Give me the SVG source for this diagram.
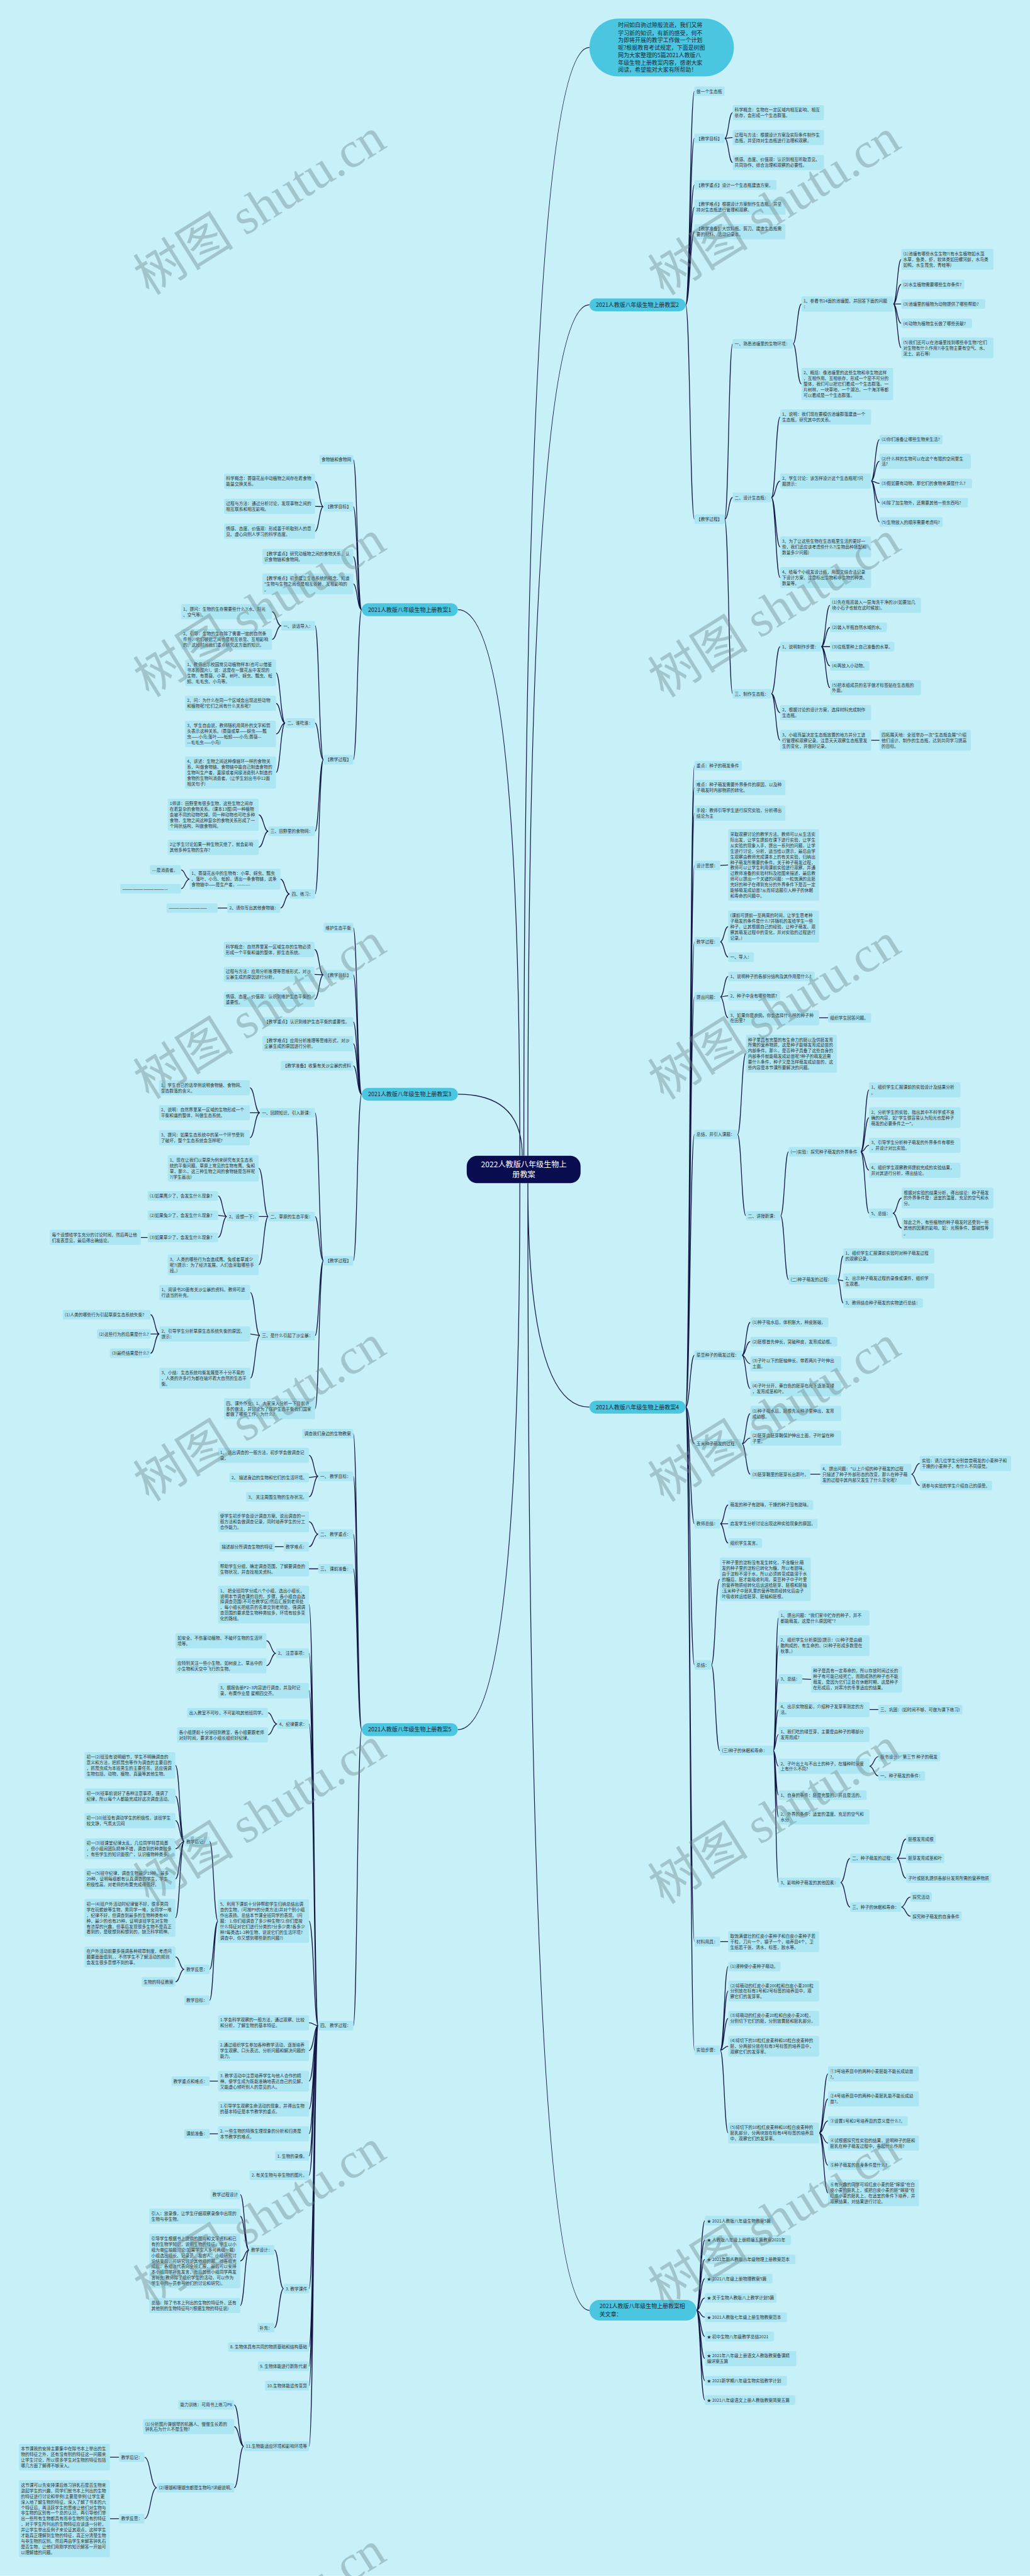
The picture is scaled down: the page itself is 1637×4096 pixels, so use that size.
<svg xmlns="http://www.w3.org/2000/svg" width="1637" height="4096" viewBox="0 0 1637 4096">
<style>
.bg{fill:#c8f0f8}
.n rect{fill:#ade6f3;rx:4px}
.n text{font-family:"Noto Sans CJK SC","Noto Sans",sans-serif;font-size:10.6px;fill:#333}
.l1 rect{fill:#4ac6e1}
.l1 text{font-family:"Noto Sans CJK SC","Noto Sans",sans-serif;font-size:14px;fill:#1d2733}
.ct rect{fill:#0a0c50}
.ct text{font-family:"Noto Sans CJK SC","Noto Sans",sans-serif;font-size:19px;fill:#fff;text-anchor:middle}
.e path{fill:none;stroke:#141846;stroke-width:2}
.wm text{font-family:"Liberation Serif","Noto Sans CJK SC",serif;font-size:125px;fill:#6e8a8e;opacity:.42;text-anchor:middle}
</style>
<g transform="scale(0.63945)">
<rect class="bg" x="0" y="0" width="2560" height="6405"/>
<g class="e" id="connectors">
<path d="M1302 2874Q1302 118 1465 118M1312 2874Q1312 758 1465 758M1292 2874Q1292 1516 1138 1516M1298 2874Q1298 2721 1138 2721M1312 2942Q1312 3499 1465 3499M1292 2942Q1292 4301 1138 4301M1312 2942Q1312 5745 1465 5745"/>
<path d="M1704 758C1715 758 1715 227 1726 227M1704 758C1715 758 1715 344 1726 344M1704 758C1715 758 1715 460 1726 460M1704 758C1715 758 1715 515 1726 515M1704 758C1715 758 1715 576 1726 576M1704 758C1715 758 1715 1291 1726 1291"/>
<path d="M1801 344C1811 344 1811 280 1821 280M1801 344C1811 344 1811 342 1821 342M1801 344C1811 344 1811 404 1821 404"/>
<path d="M1801 1291C1811 1291 1811 855 1821 855M1801 1291C1811 1291 1811 1237 1821 1237M1801 1291C1811 1291 1811 1725 1821 1725"/>
<path d="M1971 855C1981 855 1981 756 1992 756M1971 855C1981 855 1981 955 1992 955"/>
<path d="M2220 756C2230 756 2230 645 2240 645M2220 756C2230 756 2230 707 2240 707M2220 756L2240 756M2220 756C2230 756 2230 804 2240 804M2220 756C2230 756 2230 865 2240 865"/>
<path d="M1917 1237C1928 1237 1928 1037 1939 1037M1917 1237C1928 1237 1928 1196 1939 1196M1917 1237C1928 1237 1928 1360 1939 1360M1917 1237C1928 1237 1928 1436 1939 1436"/>
<path d="M2165 1196C2175 1196 2175 1093 2186 1093M2165 1196C2175 1196 2175 1147 2186 1147M2165 1196C2175 1196 2175 1202 2186 1202M2165 1196C2175 1196 2175 1250 2186 1250M2165 1196C2175 1196 2175 1298 2186 1298"/>
<path d="M1917 1725C1928 1725 1928 1608 1939 1608M1917 1725C1928 1725 1928 1772 1939 1772M1917 1725C1928 1725 1928 1841 1939 1841"/>
<path d="M2041 1608C2052 1608 2052 1505 2063 1505M2041 1608C2052 1608 2052 1560 2063 1560M2041 1608L2063 1608M2041 1608C2052 1608 2052 1656 2063 1656M2041 1608C2052 1608 2052 1710 2063 1710M2165 1841L2186 1841"/>
<path d="M1704 3499C1715 3499 1715 1904 1726 1904M1704 3499C1715 3499 1715 1958 1726 1958M1704 3499C1715 3499 1715 2022 1726 2022M1704 3499C1715 3499 1715 2152 1726 2152M1704 3499C1715 3499 1715 2342 1726 2342M1704 3499C1715 3499 1715 2479 1726 2479M1704 3499C1715 3499 1715 2821 1726 2821M1704 3499C1715 3499 1715 3370 1726 3370M1704 3499C1715 3499 1715 3590 1726 3590M1704 3499C1715 3499 1715 3789 1726 3789M1704 3499C1715 3499 1715 4140 1726 4140M1704 3499C1715 3499 1715 4828 1726 4828M1704 3499C1715 3499 1715 5098 1726 5098"/>
<path d="M1790 2152L1810 2151M1790 2342C1800 2342 1800 2304 1810 2304M1790 2342C1800 2342 1800 2380 1810 2380M1790 2479C1800 2479 1800 2428 1810 2428M1790 2479C1800 2479 1800 2476 1810 2476M1790 2479C1800 2479 1800 2531 1810 2531M2036 2531L2058 2531"/>
<path d="M1833 2821C1843 2821 1843 2620 1854 2620M1833 2821C1843 2821 1843 3023 1854 3023M1940 3023C1950 3023 1950 2864 1960 2864M1940 3023C1950 3023 1950 3182 1960 3182"/>
<path d="M2139 2864C2150 2864 2150 2710 2160 2710M2139 2864C2150 2864 2150 2779 2160 2779M2139 2864C2150 2864 2150 2848 2160 2848M2139 2864C2150 2864 2150 2910 2160 2910M2139 2864C2150 2864 2150 3017 2160 3017M2219 3017C2230 3017 2230 2979 2241 2979M2219 3017C2230 3017 2230 3054 2241 3054"/>
<path d="M2082 3182C2089 3182 2089 3123 2096 3123M2082 3182L2096 3185M2082 3182C2089 3182 2089 3240 2096 3240"/>
<path d="M1844 3370C1854 3370 1854 3288 1865 3288M1844 3370C1854 3370 1854 3336 1865 3336M1844 3370C1854 3370 1854 3391 1865 3391M1844 3370C1854 3370 1854 3453 1865 3453M1844 3590C1854 3590 1854 3515 1865 3515M1844 3590C1854 3590 1854 3576 1865 3576M1844 3590C1854 3590 1854 3666 1865 3666M2014 3666L2039 3666M2265 3666C2275 3666 2275 3639 2286 3639M2265 3666C2275 3666 2275 3694 2286 3694"/>
<path d="M1790 3789C1800 3789 1800 3742 1810 3742M1790 3789L1810 3789M1790 3789C1800 3789 1800 3837 1810 3837M1768 4140C1778 4140 1778 3927 1789 3927M1768 4140C1778 4140 1778 4353 1789 4353"/>
<path d="M1922 4353C1928 4353 1928 4023 1935 4023M1922 4353C1928 4353 1928 4092 1935 4092M1922 4353C1928 4353 1928 4175 1935 4175M1922 4353C1928 4353 1928 4251 1935 4251M1922 4353C1928 4353 1928 4313 1935 4313M1922 4353C1928 4353 1928 4392 1935 4392M1922 4353C1928 4353 1928 4464 1935 4464M1922 4353C1928 4353 1928 4518 1935 4518M1922 4353C1928 4353 1928 4681 1935 4681"/>
<path d="M1994 4175L2016 4176M2161 4251L2183 4251M2161 4392C2172 4392 2172 4368 2183 4368M2161 4392C2172 4392 2172 4416 2183 4416M2089 4681C2101 4681 2101 4621 2113 4621M2089 4681C2101 4681 2101 4742 2113 4742M2229 4621C2240 4621 2240 4573 2252 4573M2229 4621L2252 4621M2229 4621C2240 4621 2240 4670 2252 4670M2240 4742C2251 4742 2251 4717 2263 4717M2240 4742C2251 4742 2251 4765 2263 4765"/>
<path d="M1790 4828L1810 4828M1790 5098C1800 5098 1800 4890 1810 4890M1790 5098C1800 5098 1800 4951 1810 4951M1790 5098C1800 5098 1800 5019 1810 5019M1790 5098C1800 5098 1800 5088 1810 5088M1790 5098C1800 5098 1800 5304 1810 5304"/>
<path d="M2036 5304C2047 5304 2047 5157 2058 5157M2036 5304C2047 5304 2047 5219 2058 5219M2036 5304C2047 5304 2047 5274 2058 5274M2036 5304C2047 5304 2047 5329 2058 5329M2036 5304C2047 5304 2047 5384 2058 5384M2036 5304C2047 5304 2047 5453 2058 5453"/>
<path d="M1731 5745C1741 5745 1741 5522 1752 5522M1731 5745C1741 5745 1741 5570 1752 5570M1731 5745C1741 5745 1741 5618 1752 5618M1731 5745C1741 5745 1741 5666 1752 5666M1731 5745C1741 5745 1741 5714 1752 5714M1731 5745C1741 5745 1741 5762 1752 5762M1731 5745C1741 5745 1741 5810 1752 5810M1731 5745C1741 5745 1741 5865 1752 5865M1731 5745C1741 5745 1741 5920 1752 5920M1731 5745C1741 5745 1741 5968 1752 5968"/>
<path d="M899 1516C888 1516 888 1143 878 1143M899 1516C888 1516 888 1260 878 1260M899 1516C888 1516 888 1384 878 1384M899 1516C888 1516 888 1452 878 1452M899 1516C888 1516 888 1889 878 1889"/>
<path d="M804 1260C793 1260 793 1197 783 1197M804 1260L783 1259M804 1260C793 1260 793 1321 783 1321M804 1889C793 1889 793 1556 783 1556M804 1889C793 1889 793 1798 783 1798M804 1889C793 1889 793 2067 783 2067M804 1889C793 1889 793 2223 783 2223"/>
<path d="M699 1556C687 1556 687 1521 676 1521M699 1556C687 1556 687 1590 676 1590M709 1798C697 1798 697 1673 686 1673M709 1798C697 1798 697 1749 686 1749M709 1798C697 1798 697 1825 686 1825M709 1798C697 1798 697 1921 686 1921"/>
<path d="M667 2067C655 2067 655 2026 643 2026M667 2067C655 2067 655 2107 643 2107M720 2223C708 2223 708 2186 697 2186M720 2223C708 2223 708 2258 697 2258M471 2186C460 2186 460 2163 450 2163M471 2186C460 2186 460 2210 450 2210M565 2258L541 2258"/>
<path d="M899 2721C888 2721 888 2307 878 2307M899 2721C888 2721 888 2424 878 2424M899 2721C888 2721 888 2541 878 2541M899 2721C888 2721 888 2595 878 2595M899 2721C888 2721 888 2650 878 2650M899 2721C888 2721 888 3135 878 3135"/>
<path d="M804 2424C793 2424 793 2361 782 2361M804 2424L782 2423M804 2424C793 2424 793 2485 782 2485M804 3135C793 3135 793 2767 783 2767M804 3135C793 3135 793 3025 783 3025M804 3135C793 3135 793 3321 783 3321M804 3135C793 3135 793 3503 783 3503"/>
<path d="M646 2767C633 2767 633 2705 621 2705M646 2767L621 2767M646 2767C633 2767 633 2829 621 2829M667 3025C655 3025 655 2905 643 2905M667 3025L643 3025M667 3025C655 3025 655 3145 643 3145"/>
<path d="M564 3025C553 3025 553 2974 542 2974M564 3025L542 3022M564 3025C553 3025 553 3077 542 3077M367 3077L350 3077M646 3321C634 3321 634 3214 622 3214M646 3321L622 3317M646 3321C634 3321 634 3427 622 3427M396 3317C385 3317 385 3269 374 3269M396 3317L374 3317M396 3317C385 3317 385 3365 374 3365"/>
<path d="M899 4301C888 4301 888 3565 878 3565M899 4301C888 4301 888 3671 878 3671M899 4301C888 4301 888 3815 878 3815M899 4301C888 4301 888 3901 878 3901M899 4301C888 4301 888 5037 878 5037"/>
<path d="M791 3671C780 3671 780 3619 768 3619M791 3671L768 3674M791 3671C780 3671 780 3722 768 3722M791 3815C780 3815 780 3784 768 3784M791 3815C780 3815 780 3846 768 3846M705 3846L683 3846M791 3901L768 3901"/>
<path d="M791 5037C780 5037 780 3990 768 3990M791 5037C780 5037 780 4111 768 4111M791 5037C780 5037 780 4204 768 4204M791 5037C780 5037 780 4287 768 4287M791 5037C780 5037 780 4777 768 4777M791 5037C780 5037 780 5030 768 5030M791 5037C780 5037 780 5099 768 5099M791 5037C780 5037 780 5175 768 5175M791 5037C780 5037 780 5244 768 5244M791 5037C780 5037 780 5306 768 5306M791 5037C780 5037 780 5361 768 5361M791 5037C780 5037 780 5409 768 5409M791 5037C780 5037 780 5691 768 5691M791 5037C780 5037 780 5836 768 5836M791 5037C780 5037 780 5884 768 5884M791 5037C780 5037 780 5932 768 5932M791 5037C780 5037 780 6083 768 6083"/>
<path d="M686 4111C674 4111 674 4080 662 4080M686 4111C674 4111 674 4142 662 4142M689 4287C677 4287 677 4259 666 4259M689 4287C677 4287 677 4314 666 4314M542 4777C531 4777 531 4579 521 4579M542 4777C531 4777 531 4897 521 4897M542 4777C531 4777 531 4974 521 4974"/>
<path d="M458 4579C447 4579 447 4390 436 4390M458 4579C447 4579 447 4466 436 4466M458 4579C447 4579 447 4527 436 4527M458 4579C447 4579 447 4597 436 4597M458 4579C447 4579 447 4672 436 4672M458 4579C447 4579 447 4769 436 4769M458 4897C447 4897 447 4866 436 4866M458 4897C447 4897 447 4928 436 4928M542 5175L521 5175M542 5306L521 5306"/>
<path d="M705 5691C693 5691 693 5595 682 5595M705 5691C693 5691 693 5788 682 5788M619 5595C608 5595 608 5457 597 5457M619 5595C608 5595 608 5511 597 5511M619 5595C608 5595 608 5622 597 5622M619 5595C608 5595 608 5733 597 5733"/>
<path d="M606 6083C594 6083 594 5980 582 5980M606 6083C594 6083 594 6034 582 6034M606 6083C594 6083 594 6186 582 6186M390 6186C374 6186 374 6110 359 6110M390 6186C374 6186 374 6263 359 6263M296 6110L273 6110M296 6263L273 6263"/>
</g>
<g id="center" class="ct"><rect x="1160" y="2874" width="283" height="68" rx="26"/><text><tspan x="1302" y="2903">2022人教版八年级生物上</tspan><tspan x="1302" y="2928">册教案</tspan></text></g>
<g id="intro" class="l1"><rect x="1465" y="46" width="359" height="144" rx="72"/><text><tspan x="1536" y="68">时间如白驹过隙般流逝，我们又将</tspan><tspan x="1536" y="87">学习新的知识，有新的感受，何不</tspan><tspan x="1536" y="105">为即将开展的教学工作做一个计划</tspan><tspan x="1536" y="124">呢?根据教育考试规定，下面是树图</tspan><tspan x="1536" y="142">网为大家整理的5篇2021人教版八</tspan><tspan x="1536" y="161">年级生物上册教案内容，感谢大家</tspan><tspan x="1536" y="179">阅读，希望能对大家有所帮助！</tspan></text></g>
<g id="B2" class="l1"><rect x="1465" y="742" width="239" height="32" rx="16"/><text x="1481" y="763">2021人教版八年级生物上册教案2</text></g>
<g id="B4" class="l1"><rect x="1465" y="3483" width="239" height="32" rx="16"/><text x="1481" y="3504">2021人教版八年级生物上册教案4</text></g>
<g id="BR" class="l1"><rect x="1465" y="5719" width="266" height="51" rx="25"/><text><tspan x="1490" y="5740">2021人教版八年级生物上册教案相</tspan><tspan x="1490" y="5759">关文章：</tspan></text></g>
<g id="B1" class="l1"><rect x="899" y="1500" width="239" height="32" rx="16"/><text x="915" y="1521">2021人教版八年级生物上册教案1</text></g>
<g id="B3" class="l1"><rect x="899" y="2705" width="239" height="32" rx="16"/><text x="915" y="2726">2021人教版八年级生物上册教案3</text></g>
<g id="B5" class="l1"><rect x="899" y="4285" width="239" height="32" rx="16"/><text x="915" y="4306">2021人教版八年级生物上册教案5</text></g>
<g class="n">
<g id="a1"><rect x="1726" y="215" width="75" height="24"/><text x="1731" y="231">做一个生态瓶</text></g>
<g id="a2"><rect x="1726" y="332" width="75" height="24"/><text x="1731" y="348">【教学目标】</text></g>
<g id="a21"><rect x="1821" y="261" width="227" height="38"/><text><tspan x="1826" y="277">科学概念：生物在一定区域内相互影响、相互</tspan><tspan x="1826" y="291">依存，会形成一个生态群落。</tspan></text></g>
<g id="a22"><rect x="1821" y="323" width="227" height="38"/><text><tspan x="1826" y="339">过程与方法：根据设计方案及实际条件制作生</tspan><tspan x="1826" y="353">态瓶，并坚持对生态瓶进行治理和观察。</tspan></text></g>
<g id="a23"><rect x="1821" y="385" width="227" height="38"/><text><tspan x="1826" y="401">情感、态度、价值观：认识到相互听取意见、</tspan><tspan x="1826" y="415">共同协作、综合治理和观察的必要性。</tspan></text></g>
<g id="a3"><rect x="1726" y="448" width="204" height="24"/><text x="1731" y="464">【教学重点】设计一个生态瓶建造方案。</text></g>
<g id="a4"><rect x="1726" y="496" width="226" height="38"/><text><tspan x="1731" y="512">【教学难点】根据设计方案制作生态瓶，并坚</tspan><tspan x="1731" y="526">持对生态瓶进行管理和观察。</tspan></text></g>
<g id="a5"><rect x="1726" y="557" width="226" height="38"/><text><tspan x="1731" y="573">【教学准备】大饮料瓶、剪刀、建造生态瓶需</tspan><tspan x="1731" y="587">要的材料、活动记录本。</tspan></text></g>
<g id="a6"><rect x="1726" y="1279" width="75" height="24"/><text x="1731" y="1295">【教学过程】</text></g>
<g id="a61"><rect x="1821" y="843" width="150" height="24"/><text x="1826" y="859">一、熟悉池塘里的生物环境：</text></g>
<g id="a611"><rect x="1992" y="737" width="228" height="38"/><text><tspan x="1997" y="753">1、参看书14面的池塘图，并回答下面的问题</tspan><tspan x="1997" y="767">：</tspan></text></g>
<g id="a6111"><rect x="2240" y="619" width="229" height="52"/><text><tspan x="2245" y="635">(1)池塘有哪些水生生物?(有水生植物如水藻</tspan><tspan x="2245" y="649">水草，鱼类，虾，软体类如田螺河蚌，水鸟类</tspan><tspan x="2245" y="663">如鸭，水生昆虫，青蛙等)</tspan></text></g>
<g id="a6112"><rect x="2240" y="695" width="157" height="24"/><text x="2245" y="711">(2)水生植物需要哪些生存条件?</text></g>
<g id="a6113"><rect x="2240" y="744" width="209" height="24"/><text x="2245" y="760">(3)池塘里的植物为动物提供了哪些帮助?</text></g>
<g id="a6114"><rect x="2240" y="792" width="176" height="24"/><text x="2245" y="808">(4)动物为植物生长做了哪些贡献?</text></g>
<g id="a6115"><rect x="2240" y="839" width="229" height="52"/><text><tspan x="2245" y="855">(5)我们还可以在池塘里找到哪些非生物?它们</tspan><tspan x="2245" y="869">对生物有什么作用?(非生物主要有空气、水、</tspan><tspan x="2245" y="883">泥土、岩石等)</tspan></text></g>
<g id="a612"><rect x="1992" y="915" width="228" height="80"/><text><tspan x="1997" y="931">2、概括：像池塘里的这些生物和非生物这样</tspan><tspan x="1997" y="945">，互相作用、互相依存，形成一个密不可分的</tspan><tspan x="1997" y="959">整体，我们可以把它们看成一个生态群落。一</tspan><tspan x="1997" y="973">片树林，一块草地，一个湖泊，一个海洋等都</tspan><tspan x="1997" y="987">可以看成是一个生态群落。</tspan></text></g>
<g id="a62"><rect x="1821" y="1225" width="96" height="24"/><text x="1826" y="1241">二、设计生态瓶：</text></g>
<g id="a621"><rect x="1939" y="1018" width="226" height="38"/><text><tspan x="1944" y="1034">1、说明：我们现在要模仿池塘群落建造一个</tspan><tspan x="1944" y="1048">生态瓶，研究其中的关系。</tspan></text></g>
<g id="a622"><rect x="1939" y="1177" width="226" height="38"/><text><tspan x="1944" y="1193">2、学生讨论：该怎样设计这个生态瓶呢?问</tspan><tspan x="1944" y="1207">题提示：</tspan></text></g>
<g id="a6221"><rect x="2186" y="1081" width="157" height="24"/><text x="2191" y="1097">(1)你们准备让哪些生物来生活?</text></g>
<g id="a6222"><rect x="2186" y="1128" width="227" height="38"/><text><tspan x="2191" y="1144">(2)什么样的生物可以在这个有限的空间里生</tspan><tspan x="2191" y="1158">活?</tspan></text></g>
<g id="a6223"><rect x="2186" y="1190" width="230" height="24"/><text x="2191" y="1206">(3)假如要有动物，那它们的食物来源是什么?</text></g>
<g id="a6224"><rect x="2186" y="1238" width="220" height="24"/><text x="2191" y="1254">(4)除了加生物外，还需要其他一些东西吗?</text></g>
<g id="a6225"><rect x="2186" y="1286" width="157" height="24"/><text x="2191" y="1302">(5)生物放入的顺序需要考虑吗?</text></g>
<g id="a623"><rect x="1939" y="1334" width="226" height="52"/><text><tspan x="1944" y="1350">3、为了让这些生物在生态瓶里生活的更好一</tspan><tspan x="1944" y="1364">些，我们还应该考虑些什么?(生物品种搭配和</tspan><tspan x="1944" y="1378">数量多少问题)</tspan></text></g>
<g id="a624"><rect x="1939" y="1410" width="226" height="52"/><text><tspan x="1944" y="1426">4、给每个小组发设计纸，用图文结合法记录</tspan><tspan x="1944" y="1440">下设计方案，注意标出生物和非生物的种类、</tspan><tspan x="1944" y="1454">数量等。</tspan></text></g>
<g id="a63"><rect x="1821" y="1713" width="96" height="24"/><text x="1826" y="1729">三、制作生态瓶：</text></g>
<g id="a631"><rect x="1939" y="1596" width="102" height="24"/><text x="1944" y="1612">1、说明制作步骤：</text></g>
<g id="a6311"><rect x="2063" y="1486" width="226" height="38"/><text><tspan x="2068" y="1502">(1)先在瓶底装入一层淘洗干净的沙(如要加几</tspan><tspan x="2068" y="1516">块小石子也就在这时候放)。</tspan></text></g>
<g id="a6312"><rect x="2063" y="1548" width="141" height="24"/><text x="2068" y="1564">(2)装入半瓶自然水域的水。</text></g>
<g id="a6313"><rect x="2063" y="1596" width="160" height="24"/><text x="2068" y="1612">(3)往瓶里种上自己准备的水草。</text></g>
<g id="a6314"><rect x="2063" y="1644" width="98" height="24"/><text x="2068" y="1660">(4)再放入小动物。</text></g>
<g id="a6315"><rect x="2063" y="1691" width="226" height="38"/><text><tspan x="2068" y="1707">(5)把本组成员的名字做才标签贴在生态瓶的</tspan><tspan x="2068" y="1721">外面。</tspan></text></g>
<g id="a632"><rect x="1939" y="1753" width="226" height="38"/><text><tspan x="1944" y="1769">2、根据讨论的设计方案，选择材料完成制作</tspan><tspan x="1944" y="1783">生态瓶。</tspan></text></g>
<g id="a633"><rect x="1939" y="1815" width="226" height="52"/><text><tspan x="1944" y="1831">3、小组商量决定生态瓶放置的地方并分工进</tspan><tspan x="1944" y="1845">行管理和观察记录。注意天天观察生态瓶里发</tspan><tspan x="1944" y="1859">生的变化，并做好记录。</tspan></text></g>
<g id="a6331"><rect x="2186" y="1815" width="227" height="52"/><text><tspan x="2191" y="1831">四拓展天地：全班举办一次"生态瓶会展"介绍</tspan><tspan x="2191" y="1845">他们设计、制作的生态瓶，达到共同学习提高</tspan><tspan x="2191" y="1859">的目标。</tspan></text></g>
<g id="b1"><rect x="1726" y="1892" width="118" height="24"/><text x="1731" y="1908">重点：种子的萌发条件</text></g>
<g id="b2"><rect x="1726" y="1939" width="226" height="38"/><text><tspan x="1731" y="1955">难点：种子萌发需要外界条件的原因，以及种</tspan><tspan x="1731" y="1969">子萌发时内部物质的转化。</tspan></text></g>
<g id="b3"><rect x="1726" y="2003" width="226" height="38"/><text><tspan x="1731" y="2019">手段：教师引导学生进行探究实验，分析得出</tspan><tspan x="1731" y="2033">结论为主</tspan></text></g>
<g id="b4"><rect x="1726" y="2140" width="64" height="24"/><text x="1731" y="2156">设计思想：</text></g>
<g id="b41"><rect x="1810" y="2062" width="226" height="178"/><text><tspan x="1815" y="2078">采取观察讨论的教学方法。教师可以从生活实</tspan><tspan x="1815" y="2092">际出发，让学生提前在课下进行实验，让学生</tspan><tspan x="1815" y="2106">从实验的现象入手，提出一系列的问题，让学</tspan><tspan x="1815" y="2120">生进行讨论，分析，适当给以提示，最后由学</tspan><tspan x="1815" y="2134">生观察由教师完成课本上的有关实验，归纳出</tspan><tspan x="1815" y="2148">种子萌发所需要的条件。关于种子萌发过程，</tspan><tspan x="1815" y="2162">教师可以让学生利用课前实验进行观察，并通</tspan><tspan x="1815" y="2176">过教师准备的实验材料及挂图来描述，最后教</tspan><tspan x="1815" y="2190">师可以提出一个关键的问题：一粒饱满的且胚</tspan><tspan x="1815" y="2204">完好的种子在得到充分的外界条件下是否一定</tspan><tspan x="1815" y="2218">能够萌发成幼苗?从而将话题引入种子的休眠</tspan><tspan x="1815" y="2232">和寿命的问题中。</tspan></text></g>
<g id="b5"><rect x="1726" y="2330" width="64" height="24"/><text x="1731" y="2346">教学过程：</text></g>
<g id="b51"><rect x="1810" y="2264" width="226" height="80"/><text><tspan x="1815" y="2280">(课前可提前一至两周的时间，让学生思考种</tspan><tspan x="1815" y="2294">子萌发的条件是什么?并随机的发给学生一些</tspan><tspan x="1815" y="2308">种子，让其根据自己的经验，让种子萌发。观</tspan><tspan x="1815" y="2322">察其萌发过程中的变化，并对实验的过程进行</tspan><tspan x="1815" y="2336">记录。)</tspan></text></g>
<g id="b52"><rect x="1810" y="2368" width="64" height="24"/><text x="1815" y="2384">一、导入：</text></g>
<g id="b6"><rect x="1726" y="2467" width="64" height="24"/><text x="1731" y="2483">提出问题：</text></g>
<g id="b61"><rect x="1810" y="2416" width="215" height="24"/><text x="1815" y="2432">1、说明种子的各部分结构及其作用是什么?</text></g>
<g id="b62"><rect x="1810" y="2464" width="129" height="24"/><text x="1815" y="2480">2、种子中含有哪些物质?</text></g>
<g id="b63"><rect x="1810" y="2512" width="226" height="38"/><text><tspan x="1815" y="2528">3、如果你是农民，你会选择什么样的种子种</tspan><tspan x="1815" y="2542">在田里?</tspan></text></g>
<g id="b631"><rect x="2058" y="2519" width="107" height="24"/><text x="2063" y="2535">组织学生回答问题。</text></g>
<g id="b7"><rect x="1726" y="2809" width="107" height="24"/><text x="1731" y="2825">总结，并引入课题：</text></g>
<g id="b71"><rect x="1854" y="2573" width="226" height="94"/><text><tspan x="1859" y="2589">种子里具有完整的有生命力的胚以及供胚发育</tspan><tspan x="1859" y="2603">所需的营养物质，这是种子能够发育成幼苗的</tspan><tspan x="1859" y="2617">内部条件。那么，是否种子具备了这些自身的</tspan><tspan x="1859" y="2631">内部条件就能萌发成幼苗呢?种子的萌发还需</tspan><tspan x="1859" y="2645">要什么条件，种子又是怎样萌发成幼苗的，这</tspan><tspan x="1859" y="2659">些内容是本节课所要解决的问题。</tspan></text></g>
<g id="b72"><rect x="1854" y="3011" width="86" height="24"/><text x="1859" y="3027">二、讲授新课：</text></g>
<g id="b721"><rect x="1960" y="2852" width="179" height="24"/><text x="1965" y="2868">(一)实验：探究种子萌发的外界条件</text></g>
<g id="b7211"><rect x="2160" y="2691" width="227" height="38"/><text><tspan x="2165" y="2707">1、组织学生汇报课前的实验设计及结果分析</tspan><tspan x="2165" y="2721">。</tspan></text></g>
<g id="b7212"><rect x="2160" y="2753" width="227" height="52"/><text><tspan x="2165" y="2769">2、分析学生的实验，指出其中不科学或不准</tspan><tspan x="2165" y="2783">确的内容，如"学生很容易认为阳光也是种子</tspan><tspan x="2165" y="2797">萌发的必要条件之一"。</tspan></text></g>
<g id="b7213"><rect x="2160" y="2829" width="227" height="38"/><text><tspan x="2165" y="2845">3、引导学生分析种子萌发的外界条件有哪些</tspan><tspan x="2165" y="2859">，并设计对比实验。</tspan></text></g>
<g id="b7214"><rect x="2160" y="2891" width="227" height="38"/><text><tspan x="2165" y="2907">4、组织学生观察教师提前完成的实验结果，</tspan><tspan x="2165" y="2921">并对其进行分析，得出结论。</tspan></text></g>
<g id="b7215"><rect x="2160" y="3005" width="59" height="24"/><text x="2165" y="3021">5、总结：</text></g>
<g id="b72151"><rect x="2241" y="2953" width="228" height="52"/><text><tspan x="2246" y="2969">根据对实验的结果分析，得出结论：种子萌发</tspan><tspan x="2246" y="2983">的外界条件是：适宜的温度、充足的空气和水</tspan><tspan x="2246" y="2997">分。</tspan></text></g>
<g id="b72152"><rect x="2241" y="3028" width="228" height="52"/><text><tspan x="2246" y="3044">除此之外，有些植物的种子萌发时还受到一些</tspan><tspan x="2246" y="3058">其他的因素的影响，如：光照条件、酸碱性等</tspan><tspan x="2246" y="3072">。</tspan></text></g>
<g id="b722"><rect x="1960" y="3170" width="122" height="24"/><text x="1965" y="3186">(二)种子萌发的过程：</text></g>
<g id="b7221"><rect x="2096" y="3104" width="226" height="38"/><text><tspan x="2101" y="3120">1、组织学生汇报课前实验时对种子萌发过程</tspan><tspan x="2101" y="3134">的观察记录。</tspan></text></g>
<g id="b7222"><rect x="2096" y="3166" width="226" height="38"/><text><tspan x="2101" y="3182">2、出示种子萌发过程的录像或课件，组织学</tspan><tspan x="2101" y="3196">生观看。</tspan></text></g>
<g id="b7223"><rect x="2096" y="3228" width="198" height="24"/><text x="2101" y="3244">3、教师结合种子萌发的实物进行总结：</text></g>
<g id="b8"><rect x="1726" y="3358" width="118" height="24"/><text x="1731" y="3374">菜豆种子的萌发过程：</text></g>
<g id="b81"><rect x="1865" y="3276" width="194" height="24"/><text x="1870" y="3292">(1)种子吸水后，体积胀大，种皮胀破。</text></g>
<g id="b82"><rect x="1865" y="3324" width="216" height="24"/><text x="1870" y="3340">(2)胚根首先伸长，突破种皮，发育成幼根。</text></g>
<g id="b83"><rect x="1865" y="3372" width="226" height="38"/><text><tspan x="1870" y="3388">(3)子叶以下的胚轴伸长，带着两片子叶伸出</tspan><tspan x="1870" y="3402">土面。</tspan></text></g>
<g id="b84"><rect x="1865" y="3434" width="226" height="38"/><text><tspan x="1870" y="3450">(4)子叶分开，黄白色的胚芽在光下逐渐变绿</tspan><tspan x="1870" y="3464">，发育成茎和叶。</tspan></text></g>
<g id="b9"><rect x="1726" y="3578" width="118" height="24"/><text x="1731" y="3594">玉米种子萌发的过程：</text></g>
<g id="b91"><rect x="1865" y="3496" width="226" height="38"/><text><tspan x="1870" y="3512">(1)种子吸水后，胚根先从种子里伸出，发育</tspan><tspan x="1870" y="3526">成幼根。</tspan></text></g>
<g id="b92"><rect x="1865" y="3557" width="226" height="38"/><text><tspan x="1870" y="3573">(2)胚芽由胚芽鞘保护伸出土面，子叶留在种</tspan><tspan x="1870" y="3587">子里。</tspan></text></g>
<g id="b93"><rect x="1865" y="3654" width="149" height="24"/><text x="1870" y="3670">(3)胚芽鞘里的胚芽长出新叶。</text></g>
<g id="b931"><rect x="2039" y="3640" width="226" height="52"/><text><tspan x="2044" y="3656">4、提出问题："以上介绍的种子萌发的过程</tspan><tspan x="2044" y="3670">只描述了种子外部形态的改变，那么在种子萌</tspan><tspan x="2044" y="3684">发的过程中其内部又发生了什么变化呢?</tspan></text></g>
<g id="b9311"><rect x="2286" y="3620" width="227" height="38"/><text><tspan x="2291" y="3636">实验：请几位学生分别尝尝萌发的小麦种子和</tspan><tspan x="2291" y="3650">干燥的小麦种子，有什么不同感觉。</tspan></text></g>
<g id="b9312"><rect x="2286" y="3682" width="180" height="24"/><text x="2291" y="3698">请参与实验的学生介绍自己的感受。</text></g>
<g id="b10"><rect x="1726" y="3777" width="64" height="24"/><text x="1731" y="3793">教师总结：</text></g>
<g id="b101"><rect x="1810" y="3730" width="211" height="24"/><text x="1815" y="3746">萌发的种子有甜味，干燥的种子没有甜味。</text></g>
<g id="b102"><rect x="1810" y="3777" width="222" height="24"/><text x="1815" y="3793">启发学生分析讨论出现这种实验现象的原因。</text></g>
<g id="b103"><rect x="1810" y="3825" width="84" height="24"/><text x="1815" y="3841">组织学生发言。</text></g>
<g id="b11"><rect x="1726" y="4128" width="42" height="24"/><text x="1731" y="4144">总结：</text></g>
<g id="b111"><rect x="1789" y="3873" width="226" height="108"/><text><tspan x="1794" y="3889">干种子里的淀粉没有发生转化，不含糖分;萌</tspan><tspan x="1794" y="3903">发的种子里的淀粉已转化为糖，所以有甜味。</tspan><tspan x="1794" y="3917">由于淀粉不溶于水，所以必须转变成能溶于水</tspan><tspan x="1794" y="3931">的糖后，胚才能吸收利用。菜豆种子中子叶里</tspan><tspan x="1794" y="3945">的营养物质经转化后运送给胚芽、胚根和胚轴</tspan><tspan x="1794" y="3959">;玉米种子中胚乳里的营养物质经转化后由子</tspan><tspan x="1794" y="3973">叶吸收转运给胚芽、胚轴和胚根。</tspan></text></g>
<g id="b112"><rect x="1789" y="4341" width="133" height="24"/><text x="1794" y="4357">(三)种子的休眠和寿命：</text></g>
<g id="b1121"><rect x="1935" y="4004" width="226" height="38"/><text><tspan x="1940" y="4020">1、提出问题："我们家中贮存的种子，并不</tspan><tspan x="1940" y="4034">都能萌发。这是什么原因呢"?</tspan></text></g>
<g id="b1122"><rect x="1935" y="4066" width="226" height="52"/><text><tspan x="1940" y="4082">2、组织学生分析原因(提示：(1)种子是由细</tspan><tspan x="1940" y="4096">胞构成的，有生命的。(2)种子形成多数是在</tspan><tspan x="1940" y="4110">秋季。)</tspan></text></g>
<g id="b1123"><rect x="1935" y="4163" width="59" height="24"/><text x="1940" y="4179">3、总结：</text></g>
<g id="b11231"><rect x="2016" y="4143" width="226" height="66"/><text><tspan x="2021" y="4159">种子是具有一定寿命的，所以存放时间过长的</tspan><tspan x="2021" y="4173">种子有可能已经死亡。而刚成熟的种子也不能</tspan><tspan x="2021" y="4187">萌发，是因为它们正处在休眠时期，这是种子</tspan><tspan x="2021" y="4201">在形成后，对寒冷的冬季适应的结果。</tspan></text></g>
<g id="b1124"><rect x="1935" y="4232" width="226" height="38"/><text><tspan x="1940" y="4248">4、出示实物投影，介绍种子发芽率测定的方</tspan><tspan x="1940" y="4262">法。</tspan></text></g>
<g id="b11241"><rect x="2183" y="4239" width="209" height="24"/><text x="2188" y="4255">三、巩固：(如时间不够，可做为课下练习)</text></g>
<g id="b1125"><rect x="1935" y="4294" width="226" height="38"/><text><tspan x="1940" y="4310">1、我们吃的绿豆芽，主要是由种子的哪部分</tspan><tspan x="1940" y="4324">发育而成?</tspan></text></g>
<g id="b1126"><rect x="1935" y="4373" width="226" height="38"/><text><tspan x="1940" y="4389">2、子叶出土与不出土的种子，在播种时深度</tspan><tspan x="1940" y="4403">上有什么不同?</tspan></text></g>
<g id="b11261"><rect x="2183" y="4356" width="154" height="24"/><text x="2188" y="4372">板书设计： 第三节 种子的萌发</text></g>
<g id="b11262"><rect x="2183" y="4404" width="116" height="24"/><text x="2188" y="4420">一、种子萌发的条件：</text></g>
<g id="b1127"><rect x="1935" y="4452" width="219" height="24"/><text x="1940" y="4468">1、自身的条件：胚是完整的，并且是活的。</text></g>
<g id="b1128"><rect x="1935" y="4499" width="226" height="38"/><text><tspan x="1940" y="4515">2、外界的条件：适宜的温度、充足的空气和</tspan><tspan x="1940" y="4529">水分</tspan></text></g>
<g id="b1129"><rect x="1935" y="4669" width="154" height="24"/><text x="1940" y="4685">3、影响种子萌发的其他因素：</text></g>
<g id="b11291"><rect x="2113" y="4609" width="116" height="24"/><text x="2118" y="4625">二、种子萌发的过程：</text></g>
<g id="b112911"><rect x="2252" y="4561" width="74" height="24"/><text x="2257" y="4577">胚根发育成根</text></g>
<g id="b112912"><rect x="2252" y="4609" width="95" height="24"/><text x="2257" y="4625">胚芽发育成茎和叶</text></g>
<g id="b112913"><rect x="2252" y="4658" width="212" height="24"/><text x="2257" y="4674">子叶或胚乳提供各部分发育所需的营养物质</text></g>
<g id="b11292"><rect x="2113" y="4730" width="127" height="24"/><text x="2118" y="4746">三、种子的休眠和寿命：</text></g>
<g id="b112921"><rect x="2263" y="4705" width="53" height="24"/><text x="2268" y="4721">探究活动</text></g>
<g id="b112922"><rect x="2263" y="4753" width="127" height="24"/><text x="2268" y="4769">探究种子萌发的自身条件</text></g>
<g id="b12"><rect x="1726" y="4816" width="64" height="24"/><text x="1731" y="4832">材料用具：</text></g>
<g id="b121"><rect x="1810" y="4802" width="226" height="52"/><text><tspan x="1815" y="4818">取饱满健壮的红皮小麦种子和白皮小麦种子若</tspan><tspan x="1815" y="4832">干粒，刀片一个，镊子一个，培养皿4个，卫</tspan><tspan x="1815" y="4846">生纸若干张，清水，标签，胶水等。</tspan></text></g>
<g id="b13"><rect x="1726" y="5086" width="64" height="24"/><text x="1731" y="5102">实验步骤：</text></g>
<g id="b131"><rect x="1810" y="4878" width="130" height="24"/><text x="1815" y="4894">(1)浸种使小麦种子萌动。</text></g>
<g id="b132"><rect x="1810" y="4925" width="226" height="52"/><text><tspan x="1815" y="4941">(2)将萌动的红皮小麦200粒和白皮小麦200粒</tspan><tspan x="1815" y="4955">分别放在标有1号和2号标签的培养皿中，观</tspan><tspan x="1815" y="4969">察它们的发芽率。</tspan></text></g>
<g id="b133"><rect x="1810" y="5000" width="226" height="38"/><text><tspan x="1815" y="5016">(3)将萌动的红皮小麦20粒和白皮小麦20粒，</tspan><tspan x="1815" y="5030">分别切下它们的胚，分别放置胚和胚乳部分。</tspan></text></g>
<g id="b134"><rect x="1810" y="5062" width="226" height="52"/><text><tspan x="1815" y="5078">(4)将切下的10粒红皮麦种和10粒白皮麦种的</tspan><tspan x="1815" y="5092">胚，分两部分放在标有3号标签的培养皿中，</tspan><tspan x="1815" y="5106">观察它们的发芽率。</tspan></text></g>
<g id="b135"><rect x="1810" y="5278" width="226" height="52"/><text><tspan x="1815" y="5294">(5)将切下的10粒红皮麦种和10粒白皮麦种的</tspan><tspan x="1815" y="5308">胚乳部分，分两块放在标有4号标签的培养皿</tspan><tspan x="1815" y="5322">中，观察它们的发芽率。</tspan></text></g>
<g id="b1351"><rect x="2058" y="5138" width="226" height="38"/><text><tspan x="2063" y="5154">①3号培养皿中的两种小麦胚能不能长成幼苗</tspan><tspan x="2063" y="5168">?。</tspan></text></g>
<g id="b1352"><rect x="2058" y="5200" width="226" height="38"/><text><tspan x="2063" y="5216">②4号培养皿中的两种小麦胚乳能不能长成幼</tspan><tspan x="2063" y="5230">苗?。</tspan></text></g>
<g id="b1353"><rect x="2058" y="5262" width="198" height="24"/><text x="2063" y="5278">③设置1号和2号培养皿的意义是什么?。</text></g>
<g id="b1354"><rect x="2058" y="5310" width="226" height="38"/><text><tspan x="2063" y="5326">④试根据探究性实验的结果，说明种子的胚和</tspan><tspan x="2063" y="5340">胚乳在种子萌发过程中，各起什么作用?</tspan></text></g>
<g id="b1355"><rect x="2058" y="5372" width="153" height="24"/><text x="2063" y="5388">⑤种子萌发的自身条件是什么?</text></g>
<g id="b1356"><rect x="2058" y="5420" width="226" height="66"/><text><tspan x="2063" y="5436">⑥有兴趣的同学可将红皮小麦的胚"嫁接"在白</tspan><tspan x="2063" y="5450">皮小麦的胚乳上，或把白皮小麦的胚"嫁接"在</tspan><tspan x="2063" y="5464">红皮小麦的胚乳上，在适宜的条件下培养，并</tspan><tspan x="2063" y="5478">观察结果，对结果进行讨论。</tspan></text></g>
<g id="r1"><rect x="1752" y="5510" width="169" height="24"/><text x="1757" y="5526">★ 2021人教版八年级生物教案5篇</text></g>
<g id="r2"><rect x="1752" y="5558" width="214" height="24"/><text x="1757" y="5574">★ 人教版八年级上册精编五篇教案2021年</text></g>
<g id="r3"><rect x="1752" y="5606" width="225" height="24"/><text x="1757" y="5622">★ 2021年新人教版八年级物理上册教案范本</text></g>
<g id="r4"><rect x="1752" y="5654" width="168" height="24"/><text x="1757" y="5670">★ 2021八年级上册物理教案5篇</text></g>
<g id="r5"><rect x="1752" y="5702" width="178" height="24"/><text x="1757" y="5718">★ 关于生物人教版八上教学计划5篇</text></g>
<g id="r6"><rect x="1752" y="5750" width="204" height="24"/><text x="1757" y="5766">★ 2021人教版七年级上册生物教案范本</text></g>
<g id="r7"><rect x="1752" y="5798" width="172" height="24"/><text x="1757" y="5814">★ 初中生物八年级教学总结2021</text></g>
<g id="r8"><rect x="1752" y="5846" width="227" height="38"/><text><tspan x="1757" y="5862">★ 2021年八年级上册语文人教版教案备课精</tspan><tspan x="1757" y="5876">编详案五篇</tspan></text></g>
<g id="r9"><rect x="1752" y="5908" width="204" height="24"/><text x="1757" y="5924">★ 2021新学期八年级生物实验教学计划</text></g>
<g id="r10"><rect x="1752" y="5956" width="225" height="24"/><text x="1757" y="5972">★ 2021八年级语文上册人教版教案简案五篇</text></g>
<g id="c1"><rect x="794" y="1131" width="84" height="24"/><text x="799" y="1147">食物链和食物网</text></g>
<g id="c2"><rect x="804" y="1248" width="74" height="24"/><text x="809" y="1264">【教学目标】</text></g>
<g id="c21"><rect x="557" y="1178" width="226" height="38"/><text><tspan x="562" y="1194">科学概念：蔷薇花丛中动植物之间存在着食物</tspan><tspan x="562" y="1208">能量交换关系。</tspan></text></g>
<g id="c22"><rect x="557" y="1240" width="226" height="38"/><text><tspan x="562" y="1256">过程与方法：通过分析讨论，发现事物之间的</tspan><tspan x="562" y="1270">相互联系和相互影响。</tspan></text></g>
<g id="c23"><rect x="557" y="1302" width="226" height="38"/><text><tspan x="562" y="1318">情感、态度、价值观：形成善于听取别人的意</tspan><tspan x="562" y="1332">见、虚心向别人学习的科学态度。</tspan></text></g>
<g id="c3"><rect x="652" y="1365" width="226" height="38"/><text><tspan x="657" y="1381">【教学重点】研究动植物之间的食物关系，认</tspan><tspan x="657" y="1395">识食物链和食物网。</tspan></text></g>
<g id="c4"><rect x="652" y="1426" width="226" height="52"/><text><tspan x="657" y="1442">【教学难点】初步建立生态系统的概念，知道</tspan><tspan x="657" y="1456">"生物与生物之间也是相互依赖，互相影响的</tspan><tspan x="657" y="1470">。</tspan></text></g>
<g id="c5"><rect x="804" y="1877" width="74" height="24"/><text x="809" y="1893">【教学过程】</text></g>
<g id="c51"><rect x="699" y="1544" width="84" height="24"/><text x="704" y="1560">一、谈话导入：</text></g>
<g id="c511"><rect x="450" y="1502" width="226" height="38"/><text><tspan x="455" y="1518">1、提问：生物的生存需要些什么?(水、阳光</tspan><tspan x="455" y="1532">、空气等)。</tspan></text></g>
<g id="c512"><rect x="450" y="1564" width="226" height="52"/><text><tspan x="455" y="1580">2、引导：生物的生存除了需要一定的自然条</tspan><tspan x="455" y="1594">件外，它们彼此之间也是相互依靠、互相影响</tspan><tspan x="455" y="1608">的。这段时间我们重点研究这方面的知识。</tspan></text></g>
<g id="c52"><rect x="709" y="1786" width="74" height="24"/><text x="714" y="1802">二、谁吃谁：</text></g>
<g id="c521"><rect x="460" y="1640" width="226" height="66"/><text><tspan x="465" y="1656">1、教师出示校园常见动植物样本(也可以借鉴</tspan><tspan x="465" y="1670">书本的图片)，说：这是在一簇花丛中发现的</tspan><tspan x="465" y="1684">生物，有蔷薇、小草、树叶、蚜虫、瓢虫、蚯</tspan><tspan x="465" y="1698">蚓、毛毛虫、小鸟等。</tspan></text></g>
<g id="c522"><rect x="460" y="1730" width="226" height="38"/><text><tspan x="465" y="1746">2、问：为什么在同一个区域会出现这些动物</tspan><tspan x="465" y="1760">和植物呢?它们之间有什么关系呢?</tspan></text></g>
<g id="c523"><rect x="460" y="1792" width="226" height="66"/><text><tspan x="465" y="1808">3、学生自由说，教师随机用简朴的文字和箭</tspan><tspan x="465" y="1822">头表示这种关系。(蔷薇或草——蚜虫——瓢</tspan><tspan x="465" y="1836">虫——小鸟;落叶——蚯蚓——小鸟;蔷薇—</tspan><tspan x="465" y="1850">—毛毛虫——小鸟)</tspan></text></g>
<g id="c524"><rect x="460" y="1881" width="226" height="80"/><text><tspan x="465" y="1897">4、讲述：生物之间这种像链环一样的食物关</tspan><tspan x="465" y="1911">系，叫做食物链。食物链中能自己制造食物的</tspan><tspan x="465" y="1925">生物叫生产者，直接或者间接消费别人制造的</tspan><tspan x="465" y="1939">食物的生物叫消费者。(让学生划出书中12面</tspan><tspan x="465" y="1953">相关句子)</tspan></text></g>
<g id="c53"><rect x="667" y="2055" width="116" height="24"/><text x="672" y="2071">三、田野里的食物网：</text></g>
<g id="c531"><rect x="417" y="1986" width="226" height="80"/><text><tspan x="422" y="2002">1师讲：田野里有很多生物，这些生物之间存</tspan><tspan x="422" y="2016">在着复杂的食物关系。(课本13图)同一种植物</tspan><tspan x="422" y="2030">会被不同的动物吃掉。同一种动物也可吃多种</tspan><tspan x="422" y="2044">食物，生物之间这种复杂的食物关系形成了一</tspan><tspan x="422" y="2058">个网状结构，叫做食物网。</tspan></text></g>
<g id="c532"><rect x="417" y="2088" width="226" height="38"/><text><tspan x="422" y="2104">2让学生讨论如果一种生物灭绝了，就会影响</tspan><tspan x="422" y="2118">其他多种生物的生存?</tspan></text></g>
<g id="c54"><rect x="720" y="2211" width="63" height="24"/><text x="725" y="2227">四、练习：</text></g>
<g id="c541"><rect x="471" y="2160" width="226" height="52"/><text><tspan x="476" y="2176">1、蔷薇花丛中的生物有：小草、蚜虫、瓢虫</tspan><tspan x="476" y="2190">、落叶、小鸟、蚯蚓，请出一条食物链，这条</tspan><tspan x="476" y="2204">食物链中——是生产者，---------</tspan></text></g>
<g id="c5411"><rect x="373" y="2151" width="77" height="24"/><text x="378" y="2167">---是消费者。</text></g>
<g id="c5412"><rect x="299" y="2198" width="151" height="24"/><text x="304" y="2214">—————————————</text></g>
<g id="c542"><rect x="565" y="2246" width="132" height="24"/><text x="570" y="2262">2、请你写出其他食物链：</text></g>
<g id="c5421"><rect x="414" y="2246" width="127" height="24"/><text x="419" y="2262">———————————</text></g>
<g id="d1"><rect x="804" y="2295" width="74" height="24"/><text x="809" y="2311">维护生态平衡</text></g>
<g id="d2"><rect x="804" y="2412" width="74" height="24"/><text x="809" y="2428">【教学目标】</text></g>
<g id="d21"><rect x="556" y="2342" width="226" height="38"/><text><tspan x="561" y="2358">科学概念：自然界里某一区域生存的生物必须</tspan><tspan x="561" y="2372">形成一个平衡和谐的整体，即生态系统。</tspan></text></g>
<g id="d22"><rect x="556" y="2404" width="226" height="38"/><text><tspan x="561" y="2420">过程与方法：应用分析推理等思维形式，对沙</tspan><tspan x="561" y="2434">尘暴生成的原因进行分析。</tspan></text></g>
<g id="d23"><rect x="556" y="2466" width="226" height="38"/><text><tspan x="561" y="2482">情感、态度、价值观：认识到维护生态平衡的</tspan><tspan x="561" y="2496">重要性。</tspan></text></g>
<g id="d3"><rect x="652" y="2529" width="226" height="24"/><text x="657" y="2545">【教学重点】认识到维护生态平衡的重要性。</text></g>
<g id="d4"><rect x="652" y="2576" width="226" height="38"/><text><tspan x="657" y="2592">【教学难点】应用分析推理等思维形式，对沙</tspan><tspan x="657" y="2606">尘暴生成的原因进行分析。</tspan></text></g>
<g id="d5"><rect x="698" y="2638" width="180" height="24"/><text x="703" y="2654">【教学准备】收集有关沙尘暴的资料</text></g>
<g id="d6"><rect x="804" y="3123" width="74" height="24"/><text x="809" y="3139">【教学过程】</text></g>
<g id="d61"><rect x="646" y="2755" width="137" height="24"/><text x="651" y="2771">一、回顾知识，引入新课：</text></g>
<g id="d611"><rect x="395" y="2686" width="226" height="38"/><text><tspan x="400" y="2702">1、学生自己的话举例说明食物链、食物网、</tspan><tspan x="400" y="2716">生态群落的含义。</tspan></text></g>
<g id="d612"><rect x="395" y="2748" width="226" height="38"/><text><tspan x="400" y="2764">2、说明：自然界里某一区域的生物形成一个</tspan><tspan x="400" y="2778">平衡和谐的整体，叫做生态系统。</tspan></text></g>
<g id="d613"><rect x="395" y="2810" width="226" height="38"/><text><tspan x="400" y="2826">3、提问：如果生态系统中的某一个环节受到</tspan><tspan x="400" y="2840">了破坏，整个生态系统会怎样呢?</tspan></text></g>
<g id="d62"><rect x="667" y="3013" width="116" height="24"/><text x="672" y="3029">二、草原的生态平衡：</text></g>
<g id="d621"><rect x="417" y="2872" width="226" height="66"/><text><tspan x="422" y="2888">1、现在让我们以草原为例来研究有关生态系</tspan><tspan x="422" y="2902">统的平衡问题。草原上常见的生物有鹰、兔和</tspan><tspan x="422" y="2916">草，那么，这三种生物之间的食物链是怎样呢</tspan><tspan x="422" y="2930">?(学生画出)</tspan></text></g>
<g id="d622"><rect x="564" y="3013" width="79" height="24"/><text x="569" y="3029">2、设想一下：</text></g>
<g id="d6221"><rect x="367" y="2962" width="175" height="24"/><text x="372" y="2978">(1)如果鹰少了，会发生什么现象?</text></g>
<g id="d6222"><rect x="367" y="3010" width="175" height="24"/><text x="372" y="3026">(2)如果兔少了，会发生什么现象?</text></g>
<g id="d6223"><rect x="367" y="3065" width="175" height="24"/><text x="372" y="3081">(3)如果草少了，会发生什么现象?</text></g>
<g id="d62231"><rect x="124" y="3058" width="226" height="38"/><text><tspan x="129" y="3074">每个设想给学生充分的讨论时间，然后再让他</tspan><tspan x="129" y="3088">们发表意见，最后得出确结论。</tspan></text></g>
<g id="d623"><rect x="417" y="3119" width="226" height="52"/><text><tspan x="422" y="3135">3、人类的哪些行为会造成鹰、兔或者草减少</tspan><tspan x="422" y="3149">呢?(提示：为了经济发展，人们会采取哪些手</tspan><tspan x="422" y="3163">段。)</tspan></text></g>
<g id="d63"><rect x="646" y="3309" width="137" height="24"/><text x="651" y="3325">三、是什么引起了沙尘暴：</text></g>
<g id="d631"><rect x="396" y="3195" width="226" height="38"/><text><tspan x="401" y="3211">1、阅读书20面有关沙尘暴的资料。教师可进</tspan><tspan x="401" y="3225">行适当的补充。</tspan></text></g>
<g id="d632"><rect x="396" y="3298" width="226" height="38"/><text><tspan x="401" y="3314">2、引导学生分析草原生态系统失衡的原因，</tspan><tspan x="401" y="3328">提示：</tspan></text></g>
<g id="d6321"><rect x="156" y="3257" width="218" height="24"/><text x="161" y="3273">(1)人类的哪些行为引起草原生态系统失衡?</text></g>
<g id="d6322"><rect x="241" y="3305" width="133" height="24"/><text x="246" y="3321">(2)这些行为的后果是什么?</text></g>
<g id="d6323"><rect x="273" y="3353" width="101" height="24"/><text x="278" y="3369">(3)最终结果是什么?</text></g>
<g id="d633"><rect x="396" y="3401" width="226" height="52"/><text><tspan x="401" y="3417">3、小结：生态系统均衡发展是不十分不易的</tspan><tspan x="401" y="3431">，人类的许多行为都在破坏着大自然的生态平</tspan><tspan x="401" y="3445">衡。</tspan></text></g>
<g id="d64"><rect x="557" y="3477" width="226" height="52"/><text><tspan x="562" y="3493">四、课外作业：1、大家深入分析一下目前许</tspan><tspan x="562" y="3507">多的做法，并讨论为了保护生态平衡我们国家</tspan><tspan x="562" y="3521">都做了哪些工作，为什么?</tspan></text></g>
<g id="e1"><rect x="751" y="3553" width="127" height="24"/><text x="756" y="3569">调查我们身边的生物教案</text></g>
<g id="e2"><rect x="791" y="3659" width="87" height="24"/><text x="796" y="3675">一、 教学目标：</text></g>
<g id="e21"><rect x="542" y="3600" width="226" height="38"/><text><tspan x="547" y="3616">1、 说出调查的一般方法，初步学会做调查记</tspan><tspan x="547" y="3630">录。</tspan></text></g>
<g id="e22"><rect x="570" y="3662" width="198" height="24"/><text x="575" y="3678">2、 描述身边的生物和它们的生活环境。</text></g>
<g id="e23"><rect x="612" y="3710" width="156" height="24"/><text x="617" y="3726">3、 关注周围生物的生存状况。</text></g>
<g id="e3"><rect x="791" y="3803" width="87" height="24"/><text x="796" y="3819">二、 教学重点：</text></g>
<g id="e31"><rect x="542" y="3758" width="226" height="52"/><text><tspan x="547" y="3774">使学生初步学会设计调查方案、说出调查的一</tspan><tspan x="547" y="3788">般方法和会做调查记录，同时培养学生的分工</tspan><tspan x="547" y="3802">合作能力。</tspan></text></g>
<g id="e32"><rect x="705" y="3834" width="63" height="24"/><text x="710" y="3850">教学难点：</text></g>
<g id="e321"><rect x="546" y="3834" width="137" height="24"/><text x="551" y="3850">描述部分所调查生物的特征</text></g>
<g id="e4"><rect x="791" y="3889" width="87" height="24"/><text x="796" y="3905">三、 课前准备：</text></g>
<g id="e41"><rect x="542" y="3882" width="226" height="38"/><text><tspan x="547" y="3898">帮助学生分组，确定调查范围，了解要调查的</tspan><tspan x="547" y="3912">生物状况，并查找相关资料。</tspan></text></g>
<g id="e5"><rect x="791" y="5025" width="87" height="24"/><text x="796" y="5041">四、 教学过程：</text></g>
<g id="e51"><rect x="542" y="3943" width="226" height="94"/><text><tspan x="547" y="3959">1、 把全班同学分成八个小组，选出小组长，</tspan><tspan x="547" y="3973">说明本节调查课的目的，步骤，各小组自由选</tspan><tspan x="547" y="3987">择调查范围(不可在教学区)然后汇报到老师处</tspan><tspan x="547" y="4001">，每小组长把组员的名单交到老师处。强调调</tspan><tspan x="547" y="4015">查范围的要求是生物种类较多，环境有较多变</tspan><tspan x="547" y="4029">化的路线。</tspan></text></g>
<g id="e52"><rect x="686" y="4099" width="82" height="24"/><text x="691" y="4115">2、 注意事项：</text></g>
<g id="e521"><rect x="436" y="4061" width="226" height="38"/><text><tspan x="441" y="4077">如安全、不伤害动植物、不破坏生物的生活环</tspan><tspan x="441" y="4091">境等。</tspan></text></g>
<g id="e522"><rect x="436" y="4123" width="226" height="38"/><text><tspan x="441" y="4139">应特别关注一些小生物。如树皮上、草丛中的</tspan><tspan x="441" y="4153">小生物和天空中飞行的生物。</tspan></text></g>
<g id="e53"><rect x="542" y="4185" width="226" height="38"/><text><tspan x="547" y="4201">3、据报告册P2~3内容进行调查，并及时记</tspan><tspan x="547" y="4215">录，布置作业是 星期四交齐。</tspan></text></g>
<g id="e54"><rect x="689" y="4275" width="79" height="24"/><text x="694" y="4291">4、纪律要求：</text></g>
<g id="e541"><rect x="465" y="4247" width="201" height="24"/><text x="470" y="4263">出入教室不可吵，不可影响其他班同学。</text></g>
<g id="e542"><rect x="440" y="4295" width="226" height="38"/><text><tspan x="445" y="4311">各小组提前十分钟回到教室，各小组要跟老师</tspan><tspan x="445" y="4325">对好时间，要求本小组长组织好纪律。</tspan></text></g>
<g id="e55"><rect x="542" y="4723" width="226" height="108"/><text><tspan x="547" y="4739">5、利用下课前十分钟帮助学生归纳总结出调</tspan><tspan x="547" y="4753">查的生物，(可按P9的分类方法)并对个别小组</tspan><tspan x="547" y="4767">作出表扬。总结本节课全班同学的表现。(问</tspan><tspan x="547" y="4781">题： 1.你们组调查了多少种生物?2.你们是按</tspan><tspan x="547" y="4795">什么特征对它们进行分类的?分多少类?各多少</tspan><tspan x="547" y="4809">种?每类选1-2种生物，说说它们的生活环境?</tspan><tspan x="547" y="4823">调查中，你又想到哪些新的问题?)</tspan></text></g>
<g id="e551"><rect x="458" y="4567" width="63" height="24"/><text x="463" y="4583">教学后记：</text></g>
<g id="e5511"><rect x="210" y="4357" width="226" height="66"/><text><tspan x="215" y="4373">初一(2)班没有说明细节，学生不明确调查的</tspan><tspan x="215" y="4387">意义和方法，把抓昆虫等作为调查的主要目的</tspan><tspan x="215" y="4401">，抓昆虫成为本班男生的主要任务。还应强调</tspan><tspan x="215" y="4415">生物包括，动物，植物，真菌等其他生物。</tspan></text></g>
<g id="e5512"><rect x="210" y="4447" width="226" height="38"/><text><tspan x="215" y="4463">初一(9)班事前说好了各种注意事项，强调了</tspan><tspan x="215" y="4477">纪律，所以每个人都能完成好这次调查活动。</tspan></text></g>
<g id="e5513"><rect x="210" y="4508" width="226" height="38"/><text><tspan x="215" y="4524">初一(10)班没有调动学生的积极性，该班学生</tspan><tspan x="215" y="4538">较文静，气氛太沉闷</tspan></text></g>
<g id="e5514"><rect x="210" y="4571" width="226" height="52"/><text><tspan x="215" y="4587">初一(3)班课堂纪律太乱，几位同学特意捣蛋</tspan><tspan x="215" y="4601">，但小组间团队精神不错，调查到的种类较多</tspan><tspan x="215" y="4615">，有些学生的知识面很广，认识植物种类多。</tspan></text></g>
<g id="e5515"><rect x="210" y="4646" width="226" height="52"/><text><tspan x="215" y="4662">初一(5)班守纪律，调查生物最少19种，最多</tspan><tspan x="215" y="4676">29种，证明每组都有认真调查的学生，学生</tspan><tspan x="215" y="4690">积极性高，对老师的布置完成得很好。</tspan></text></g>
<g id="e5516"><rect x="210" y="4722" width="226" height="94"/><text><tspan x="215" y="4738">初一(4)班户外活动时纪律管不好，很多男同</tspan><tspan x="215" y="4752">学在玩蟾蜍等生物，男同学一堆，女同学一堆</tspan><tspan x="215" y="4766">，纪律不好，但调查到最多的生物种类有40</tspan><tspan x="215" y="4780">种，最少的也有25种，证明该班学生对生物</tspan><tspan x="215" y="4794">有浓厚的兴趣，但事后发现很多生物不是真正</tspan><tspan x="215" y="4808">看到的，是联想到和想到的，缺乏科学精神。</tspan></text></g>
<g id="e552"><rect x="458" y="4885" width="63" height="24"/><text x="463" y="4901">教学反思：</text></g>
<g id="e5521"><rect x="210" y="4840" width="226" height="52"/><text><tspan x="215" y="4856">在户外活动前要多强调各种规章制度，考虑问</tspan><tspan x="215" y="4870">题要面面俱到，，不然学生不了解活动的规则</tspan><tspan x="215" y="4884">会发生很多意想不到的事。</tspan></text></g>
<g id="e5522"><rect x="352" y="4916" width="84" height="24"/><text x="357" y="4932">生物的特征教案</text></g>
<g id="e553"><rect x="458" y="4962" width="63" height="24"/><text x="463" y="4978">教学目标：</text></g>
<g id="e56"><rect x="542" y="5011" width="226" height="38"/><text><tspan x="547" y="5027">1.学会科学观察的一般方法，通过观察、比较</tspan><tspan x="547" y="5041">和分析，了解生物的基本特征。</tspan></text></g>
<g id="e57"><rect x="542" y="5073" width="226" height="52"/><text><tspan x="547" y="5089">2.通过组织学生参加各种教学活动，逐渐培养</tspan><tspan x="547" y="5103">学生观察、口头表达、分析问题和解决问题的</tspan><tspan x="547" y="5117">能力。</tspan></text></g>
<g id="e58"><rect x="542" y="5149" width="226" height="52"/><text><tspan x="547" y="5165">3. 教学活动中注意培养学生与他人合作的精</tspan><tspan x="547" y="5179">神。使学生成为既能准确地表达自己的见解，</tspan><tspan x="547" y="5193">又能虚心倾听别人的意见的人。</tspan></text></g>
<g id="e581"><rect x="426" y="5163" width="95" height="24"/><text x="431" y="5179">教学重点和难点：</text></g>
<g id="e59"><rect x="542" y="5225" width="226" height="38"/><text><tspan x="547" y="5241">1.引导学生观察生命活动的现象，并得出生物</tspan><tspan x="547" y="5255">的基本特征是本节教学的重点。</tspan></text></g>
<g id="e510"><rect x="542" y="5287" width="226" height="38"/><text><tspan x="547" y="5303">2. 一些生物的特殊生理现象的分析和归类是</tspan><tspan x="547" y="5317">本节教学的难点。</tspan></text></g>
<g id="e5101"><rect x="458" y="5294" width="63" height="24"/><text x="463" y="5310">课前准备：</text></g>
<g id="e511"><rect x="684" y="5349" width="84" height="24"/><text x="689" y="5365">1. 生物的录像。</text></g>
<g id="e512"><rect x="620" y="5397" width="148" height="24"/><text x="625" y="5413">2. 有关生物与非生物的图片。</text></g>
<g id="e513"><rect x="705" y="5679" width="63" height="24"/><text x="710" y="5695">3. 教学课件</text></g>
<g id="e5131"><rect x="619" y="5583" width="63" height="24"/><text x="624" y="5599">教学设计：</text></g>
<g id="e51311"><rect x="523" y="5445" width="74" height="24"/><text x="528" y="5461">教学过程设计</text></g>
<g id="e51312"><rect x="371" y="5492" width="226" height="38"/><text><tspan x="376" y="5508">引入：放录像，让学生仔细观察录像中出现的</tspan><tspan x="376" y="5522">生物与非生物。</tspan></text></g>
<g id="e51313"><rect x="371" y="5554" width="226" height="136"/><text><tspan x="376" y="5570">引导学生根据书上提供的图片和文字资料和已</tspan><tspan x="376" y="5584">有的生物学知识，说明生物的特征。学生以小</tspan><tspan x="376" y="5598">组为单位抽题讨论(如果学生人多可两组一题)</tspan><tspan x="376" y="5612">小组选出组长、记录员、发言人。小组研究讨</tspan><tspan x="376" y="5626">论结束后，可研究讨论其他组的题。待各组完</tspan><tspan x="376" y="5640">成后，各组派代表向全班汇报，最后可以安排</tspan><tspan x="376" y="5654">本小组同学补充发言，而后其他小组同学再发</tspan><tspan x="376" y="5668">言补充(教师除了组织学生的活动，可以作为</tspan><tspan x="376" y="5682">学生中的一员参与他们的讨论和研究)。</tspan></text></g>
<g id="e51314"><rect x="371" y="5714" width="226" height="38"/><text><tspan x="376" y="5730">总结：除了书本上列出的生物的特征外，还有</tspan><tspan x="376" y="5744">其他别的生物特征吗?(根据生物的特征说)</tspan></text></g>
<g id="e5132"><rect x="640" y="5776" width="42" height="24"/><text x="645" y="5792">补充：</text></g>
<g id="e514"><rect x="567" y="5824" width="201" height="24"/><text x="572" y="5840">8. 生物体具有共同的物质基础和结构基础</text></g>
<g id="e515"><rect x="641" y="5872" width="127" height="24"/><text x="646" y="5888">9. 生物体能进行新陈代谢</text></g>
<g id="e516"><rect x="659" y="5920" width="109" height="24"/><text x="664" y="5936">10.生物体能遗传变异</text></g>
<g id="e517"><rect x="606" y="6071" width="162" height="24"/><text x="611" y="6087">11.生物能适应环境和影响环境等</text></g>
<g id="e5171"><rect x="443" y="5968" width="139" height="24"/><text x="448" y="5984">能力训练：可用书上练习P6</text></g>
<g id="e5172"><rect x="356" y="6015" width="226" height="38"/><text><tspan x="361" y="6031">(1)分析图片弹钢琴的机器人、慢慢生长着的</tspan><tspan x="361" y="6045">钟乳石为什么不是生物?</tspan></text></g>
<g id="e5173"><rect x="390" y="6174" width="192" height="24"/><text x="395" y="6190">(2)珊瑚和珊瑚虫都是生物吗?详细说明。</text></g>
<g id="e51731"><rect x="296" y="6098" width="63" height="24"/><text x="301" y="6114">教学后记：</text></g>
<g id="e517311"><rect x="47" y="6077" width="226" height="66"/><text><tspan x="52" y="6093">本节课我的安排主要集中在除书本上举出的生</tspan><tspan x="52" y="6107">物的特征之外，还有没有别的特征这一问题来</tspan><tspan x="52" y="6121">让学生讨论，所以很多学生对生物的特征包括</tspan><tspan x="52" y="6135">哪几方面了解得不够深入。</tspan></text></g>
<g id="e51732"><rect x="296" y="6251" width="63" height="24"/><text x="301" y="6267">教学反思：</text></g>
<g id="e517321"><rect x="47" y="6167" width="226" height="192"/><text><tspan x="52" y="6183">这节课可以先安排课后练习钟乳石是否生物来</tspan><tspan x="52" y="6197">激起学生的兴趣，同学们就书本上列出的生物</tspan><tspan x="52" y="6211">的特征进行讨论和举例(主要是举例)让学生更</tspan><tspan x="52" y="6225">深入地了解生物的特征。深入了解了书本的六</tspan><tspan x="52" y="6239">个特征后，再活跃学生的思维让他们对生物与</tspan><tspan x="52" y="6253">非生物的区别有一个总的认识，再引导他们举</tspan><tspan x="52" y="6267">出一些所有生物都具有而非生物所没有的特征</tspan><tspan x="52" y="6281">，对于学生所列出的生物特征应该逐一分析，</tspan><tspan x="52" y="6295">并让学生举出反例子来论证其观点，这样学生</tspan><tspan x="52" y="6309">才能真正理解到生物的特征，真正分清楚生物</tspan><tspan x="52" y="6323">与非生物的区别。然后再由学生来解答钟乳石</tspan><tspan x="52" y="6337">是否生物，让他们用刚学的知识解答一开始可</tspan><tspan x="52" y="6351">以理解错的问题。</tspan></text></g>
</g>
<g class="wm" id="watermark">
<text x="1926" y="557" transform="rotate(-32 1926 517)">树图 shutu.cn</text>
<text x="1926" y="1557" transform="rotate(-32 1926 1517)">树图 shutu.cn</text>
<text x="1926" y="2557" transform="rotate(-32 1926 2517)">树图 shutu.cn</text>
<text x="1926" y="3557" transform="rotate(-32 1926 3517)">树图 shutu.cn</text>
<text x="1926" y="4557" transform="rotate(-32 1926 4517)">树图 shutu.cn</text>
<text x="1926" y="5559" transform="rotate(-32 1926 5519)">树图 shutu.cn</text>
<text x="647" y="556" transform="rotate(-32 647 516)">树图 shutu.cn</text>
<text x="647" y="1556" transform="rotate(-32 647 1516)">树图 shutu.cn</text>
<text x="647" y="2556" transform="rotate(-32 647 2516)">树图 shutu.cn</text>
<text x="647" y="3556" transform="rotate(-32 647 3516)">树图 shutu.cn</text>
<text x="647" y="4556" transform="rotate(-32 647 4516)">树图 shutu.cn</text>
<text x="647" y="5556" transform="rotate(-32 647 5516)">树图 shutu.cn</text>
<text x="647" y="6556" transform="rotate(-32 647 6516)">树图 shutu.cn</text>
</g>
</g>
</svg>
